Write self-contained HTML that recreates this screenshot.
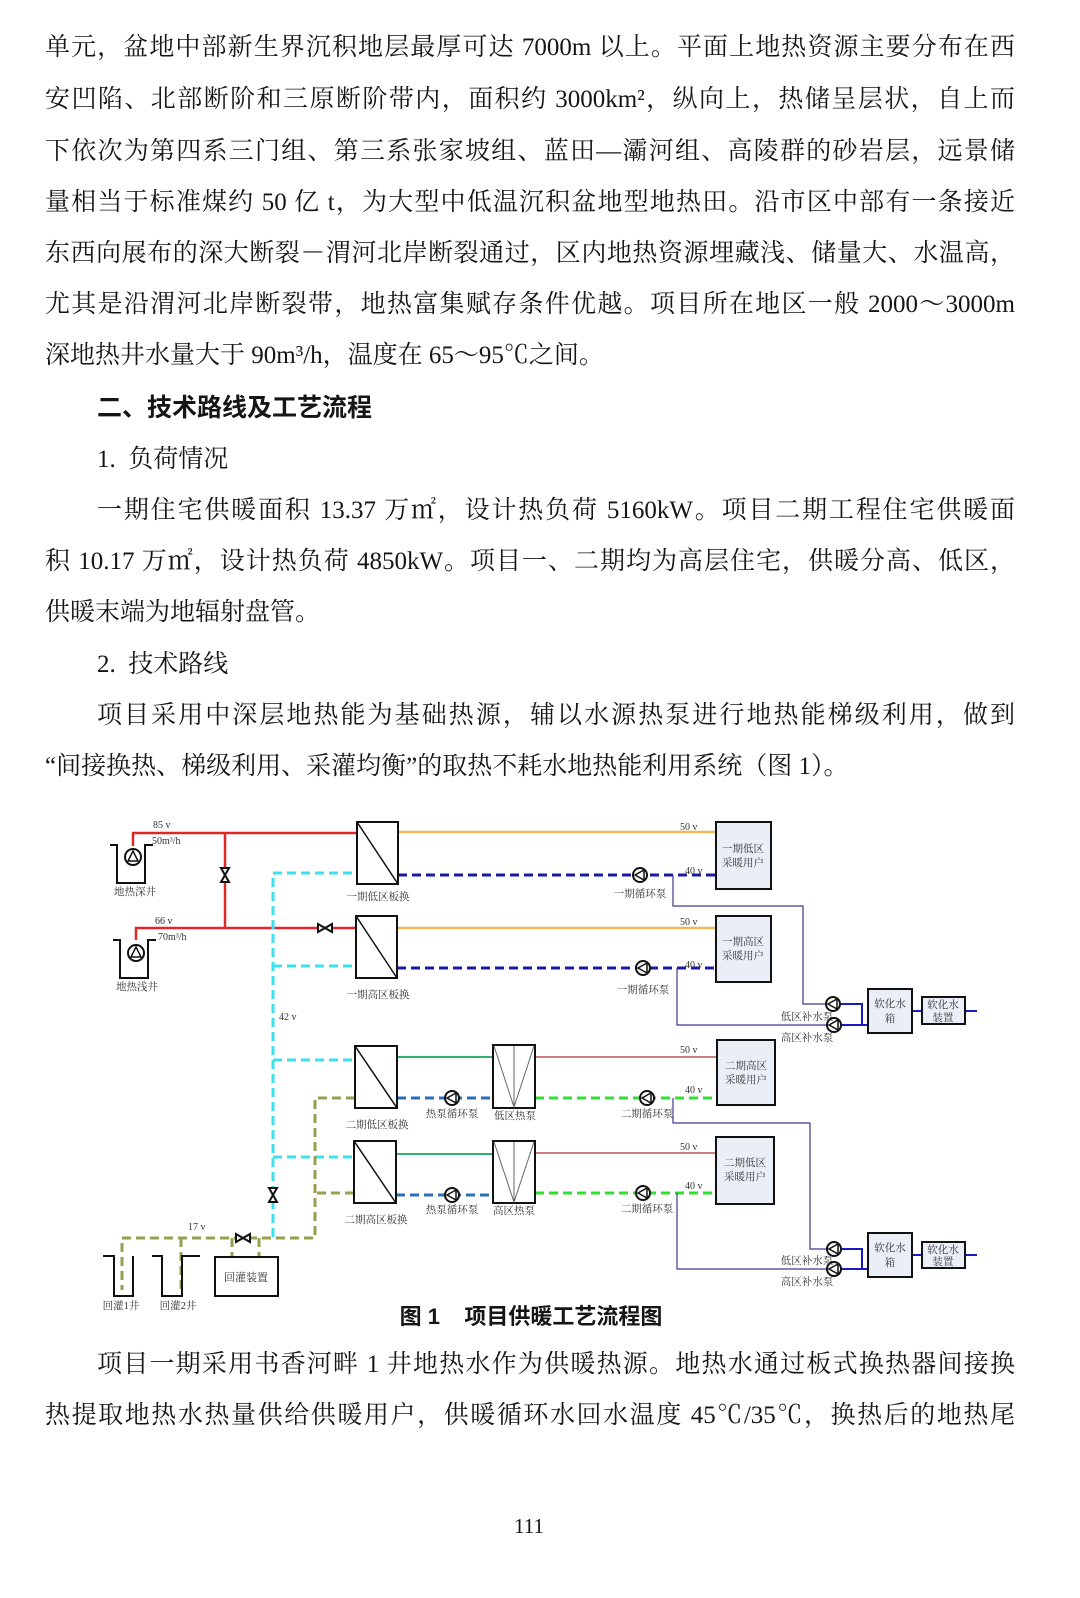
<!DOCTYPE html>
<html><head><meta charset="utf-8"><style>
body{margin:0;background:#fff;}
#p{position:relative;width:1080px;height:1598px;overflow:hidden;background:#fff;color:#151515;font-family:"Liberation Serif","Noto Serif CJK SC",serif;}
.l{position:absolute;left:45px;width:970px;font-size:25px;line-height:30px;text-align:justify;text-align-last:justify;white-space:nowrap;}
.l.n{text-align-last:left;}
.h{font-family:"Liberation Sans","Noto Sans CJK SC",sans-serif;font-weight:bold;}
svg text{font-family:"Liberation Serif","Noto Serif CJK SC",serif;fill:#333;}
</style></head><body><div id="p">
<div class="l" style="top:33px">单元，盆地中部新生界沉积地层最厚可达 7000m 以上。平面上地热资源主要分布在西</div>
<div class="l" style="top:85px">安凹陷、北部断阶和三原断阶带内，面积约 3000km²，纵向上，热储呈层状，自上而</div>
<div class="l" style="top:137px">下依次为第四系三门组、第三系张家坡组、蓝田—灞河组、高陵群的砂岩层，远景储</div>
<div class="l" style="top:188px">量相当于标准煤约 50 亿 t，为大型中低温沉积盆地型地热田。沿市区中部有一条接近</div>
<div class="l" style="top:239px">东西向展布的深大断裂－渭河北岸断裂通过，区内地热资源埋藏浅、储量大、水温高，</div>
<div class="l" style="top:290px">尤其是沿渭河北岸断裂带，地热富集赋存条件优越。项目所在地区一般 2000～3000m</div>
<div class="l n" style="top:341px">深地热井水量大于 90m³/h，温度在 65～95℃之间。</div>
<div class="l n h" style="top:393px;left:97px;">二、技术路线及工艺流程</div>
<div class="l n" style="top:445px;left:97px;">1.&nbsp; 负荷情况</div>
<div class="l" style="top:496px;left:97px;width:918px">一期住宅供暖面积 13.37 万㎡，设计热负荷 5160kW。项目二期工程住宅供暖面</div>
<div class="l" style="top:547px">积 10.17 万㎡，设计热负荷 4850kW。项目一、二期均为高层住宅，供暖分高、低区，</div>
<div class="l n" style="top:598px">供暖末端为地辐射盘管。</div>
<div class="l n" style="top:650px;left:97px;">2.&nbsp; 技术路线</div>
<div class="l" style="top:701px;left:97px;width:918px">项目采用中深层地热能为基础热源，辅以水源热泵进行地热能梯级利用，做到</div>
<div class="l n" style="top:752px">“间接换热、梯级利用、采灌均衡”的取热不耗水地热能利用系统（图 1）。</div>

<svg style="position:absolute;left:0;top:0" width="1080" height="1598" viewBox="0 0 1080 1598">
<defs>
<g id="pump"><circle r="7" fill="#fff" stroke="#111" stroke-width="2"/><path d="M5,0 L-4,-5 L-4,5 Z" fill="none" stroke="#111" stroke-width="1.5"/></g>
<g id="vpump"><circle r="8" fill="#fff" stroke="#111" stroke-width="2"/><path d="M0,-6 L-5,4 L5,4 Z" fill="none" stroke="#111" stroke-width="1.5"/></g>
<g id="valveh"><path d="M-7,-4 L7,4 L7,-4 L-7,4 Z" fill="#fff" stroke="#111" stroke-width="2"/></g>
<g id="valvev"><path d="M-4,-7 L4,7 L-4,7 L4,-7 Z" fill="#fff" stroke="#111" stroke-width="2"/></g>
</defs>
<g fill="none">
<path d="M133,846 V833 H357 M136,940 V928 H356 M225,833 V928" stroke="#e02828" stroke-width="2.5"/>
<path d="M398,832 H716 M397,928 H716" stroke="#f0b850" stroke-width="2.5"/>
<path d="M398,875 H716 M397,968 H716" stroke="#1a1aa0" stroke-width="3" stroke-dasharray="9,5"/>
<path d="M273,1237 V873 H357 M273,966 H356 M273,1060 H355 M273,1157 H354" stroke="#3ee0f0" stroke-width="3" stroke-dasharray="9,5"/>
<path d="M355,1098 H315 V1238 H122 V1290 M354,1193 H315 M181,1238 V1290 M232,1238 V1257 M259,1238 V1257" stroke="#98a050" stroke-width="3" stroke-dasharray="9,5"/>
<path d="M397,1057 H493 M396,1154 H493" stroke="#30b070" stroke-width="2"/>
<path d="M397,1098 H493 M396,1195 H493" stroke="#2a70b8" stroke-width="3" stroke-dasharray="9,5"/>
<path d="M535,1057 H717 M535,1153 H716" stroke="#c05050" stroke-width="1.5"/>
<path d="M535,1098 H717 M535,1193 H716" stroke="#30e030" stroke-width="3" stroke-dasharray="9,5"/>
<path d="M673,875 V906 H803 V1004 H833 M677,968 V1025 H834 M673,1098 V1123 H810 V1249 H834 M677,1193 V1269 H834" stroke="#3a3a90" stroke-width="1.2"/>
<path d="M833,1004 H862 V1025 H868 M834,1025 H862 M912,1011 H922 M965,1011 H977 M834,1249 H862 V1269 H868 M834,1269 H862 M912,1255 H922 M965,1255 H977" stroke="#1a1ac0" stroke-width="2"/>
<g stroke="#111" stroke-width="2" fill="#fff">
<rect x="357" y="822" width="41" height="62"/><rect x="356" y="916" width="41" height="62"/>
<rect x="355" y="1046" width="42" height="62"/><rect x="354" y="1141" width="42" height="62"/>
<rect x="493" y="1045" width="42" height="63"/><rect x="493" y="1141" width="42" height="62"/>
<rect x="215" y="1257" width="63" height="39"/>
</g>
<path d="M357,822 L398,884 M356,916 L397,978 M355,1046 L397,1108 M354,1141 L396,1203" stroke="#111" stroke-width="1.5"/>
<path d="M494,1046 L514,1107 L534,1046 M514,1046 V1107 M494,1142 L514,1202 L534,1142 M514,1142 V1202" stroke="#666" stroke-width="1"/>
<g stroke="#111" stroke-width="2" fill="#eaeef7">
<rect x="716" y="822" width="55" height="67"/><rect x="716" y="916" width="55" height="66"/>
<rect x="717" y="1040" width="58" height="65"/><rect x="716" y="1137" width="58" height="67"/>
<rect x="868" y="989" width="44" height="44"/><rect x="922" y="997" width="43" height="27"/>
<rect x="868" y="1233" width="44" height="44"/><rect x="922" y="1242" width="43" height="26"/>
</g>
<path d="M110,845 H117 V883 H145 V845 H153 M113,940 H120 V978 H148 V940 H156 M103,1256 H114 V1296 H133 V1256 M152,1256 H162 V1296 H182 V1256 H200" stroke="#111" stroke-width="2"/>
</g>
<use href="#vpump" x="133" y="857"/><use href="#vpump" x="136" y="953"/>
<use href="#valvev" x="225" y="875"/><use href="#valveh" x="325" y="928"/>
<use href="#valvev" x="273" y="1195"/><use href="#valveh" x="243" y="1238"/>
<use href="#pump" x="640" y="875" transform="rotate(180 640 875)"/><use href="#pump" x="643" y="968" transform="rotate(180 643 968)"/>
<use href="#pump" x="452" y="1098" transform="rotate(180 452 1098)"/><use href="#pump" x="452" y="1195" transform="rotate(180 452 1195)"/>
<use href="#pump" x="647" y="1098" transform="rotate(180 647 1098)"/><use href="#pump" x="643" y="1193" transform="rotate(180 643 1193)"/>
<use href="#pump" x="833" y="1004" transform="rotate(180 833 1004)"/><use href="#pump" x="834" y="1025" transform="rotate(180 834 1025)"/>
<use href="#pump" x="834" y="1249" transform="rotate(180 834 1249)"/><use href="#pump" x="834" y="1269" transform="rotate(180 834 1269)"/>
<g font-size="10">
<text x="153" y="828">85 v</text><text x="152" y="844">50m³/h</text>
<text x="155" y="924">66 v</text><text x="158" y="940">70m³/h</text>
<text x="279" y="1020">42 v</text><text x="188" y="1230">17 v</text>
<text x="680" y="830">50 v</text><text x="685" y="874">40 v</text>
<text x="680" y="925">50 v</text><text x="685" y="968">40 v</text>
<text x="680" y="1053">50 v</text><text x="685" y="1093">40 v</text>
<text x="680" y="1150">50 v</text><text x="685" y="1189">40 v</text>
</g>
<g font-size="10.5" text-anchor="middle">
<text x="135" y="895">地热深井</text><text x="137" y="990">地热浅井</text>
<text x="378" y="900">一期低区板换</text><text x="378" y="998">一期高区板换</text>
<text x="377" y="1128">二期低区板换</text><text x="376" y="1223">二期高区板换</text>
<text x="452" y="1117">热泵循环泵</text><text x="452" y="1213">热泵循环泵</text>
<text x="515" y="1119">低区热泵</text><text x="514" y="1214">高区热泵</text>
<text x="640" y="897">一期循环泵</text><text x="643" y="993">一期循环泵</text>
<text x="647" y="1117">二期循环泵</text><text x="647" y="1212">二期循环泵</text>
<text x="807" y="1020">低区补水泵</text><text x="807" y="1041">高区补水泵</text>
<text x="807" y="1264">低区补水泵</text><text x="807" y="1285">高区补水泵</text>
<text x="743" y="852">一期低区</text><text x="743" y="866">采暖用户</text>
<text x="743" y="945">一期高区</text><text x="743" y="959">采暖用户</text>
<text x="746" y="1069">二期高区</text><text x="746" y="1083">采暖用户</text>
<text x="745" y="1166">二期低区</text><text x="745" y="1180">采暖用户</text>
<text x="890" y="1007">软化水</text><text x="890" y="1022">箱</text>
<text x="943" y="1008">软化水</text><text x="943" y="1021">装置</text>
<text x="890" y="1251">软化水</text><text x="890" y="1266">箱</text>
<text x="943" y="1253">软化水</text><text x="943" y="1265">装置</text>
<text x="246" y="1281" font-size="11">回灌装置</text>
<text x="121" y="1309">回灌1井</text><text x="178" y="1309">回灌2井</text>
</g>
</svg>

<div class="l n h" style="top:1302px;left:0;width:1062px;text-align:center;text-align-last:center;font-size:22px;">图 1&nbsp;&nbsp;&nbsp; 项目供暖工艺流程图</div>
<div class="l" style="top:1350px;left:97px;width:918px">项目一期采用书香河畔 1 井地热水作为供暖热源。地热水通过板式换热器间接换</div>
<div class="l" style="top:1401px">热提取地热水热量供给供暖用户，供暖循环水回水温度 45℃/35℃，换热后的地热尾</div>
<div class="l n" style="top:1511px;left:0;width:1058px;text-align:center;text-align-last:center;font-size:21px;">111</div>
</div></body></html>
